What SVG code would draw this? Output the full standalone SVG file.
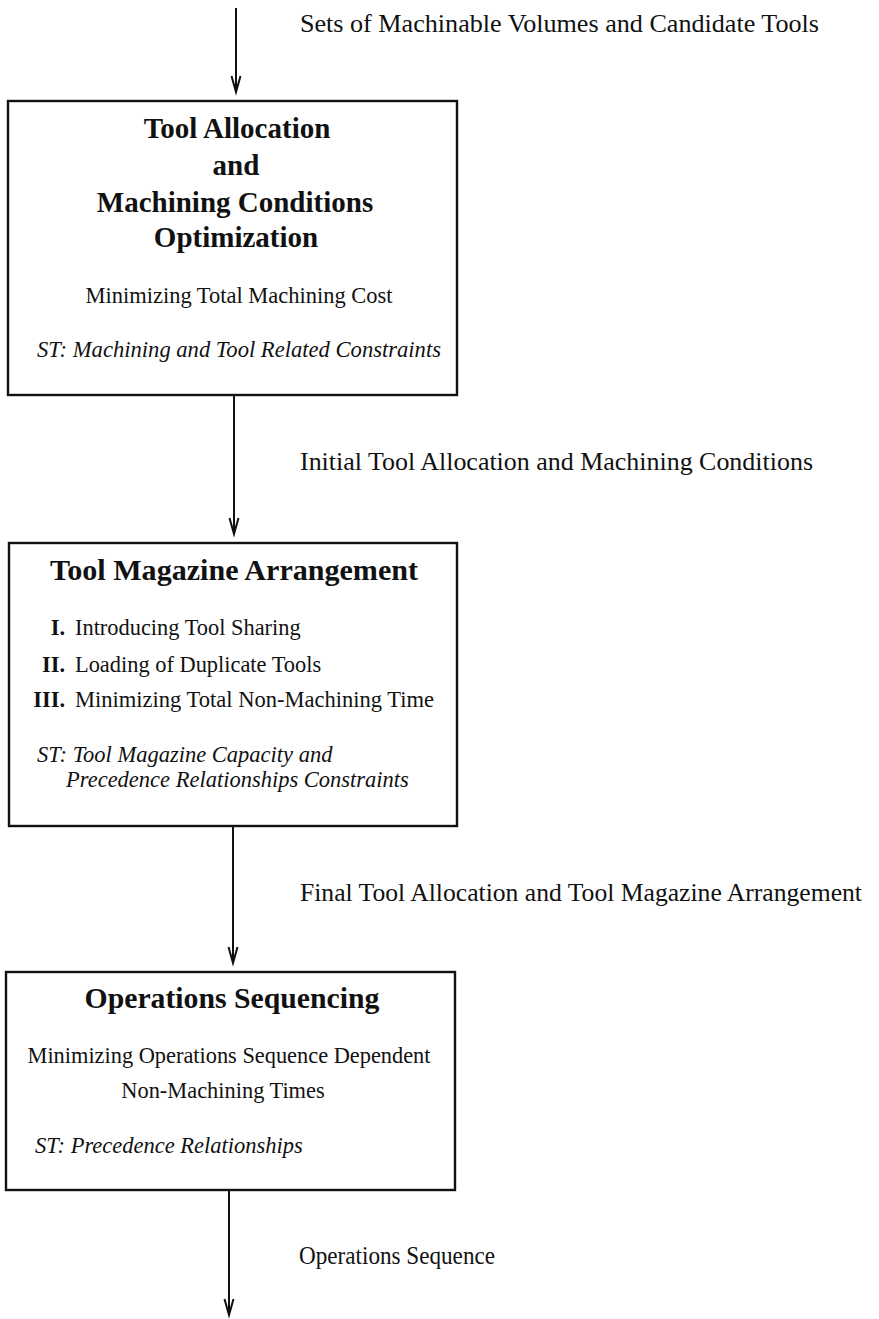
<svg xmlns="http://www.w3.org/2000/svg" width="879" height="1319" viewBox="0 0 879 1319">
<style>
.box{fill:#fff;stroke:#111;stroke-width:2.4}
.conn{stroke:#111;stroke-width:2;fill:none}
.head{stroke:#111;stroke-width:2;fill:none;stroke-linejoin:miter}
text{font-family:"Liberation Serif","Times New Roman",serif;fill:#111}
.lbl{font-size:25.5px}
.ttl{font-size:29px;font-weight:bold;text-anchor:middle}
.reg{font-size:22.4px}
.mid{text-anchor:middle}
.it{font-size:22.5px;font-style:italic}
.num{font-size:22.4px;font-weight:bold;text-anchor:end}
</style>
<rect width="879" height="1319" fill="#fff"/>
<g id="connectors">
  <line class="conn" x1="236" y1="8" x2="236" y2="91"/>
  <path class="head" d="M231.5,76 L236,92 L240.5,76"/>
  <line class="conn" x1="234" y1="396" x2="234" y2="533"/>
  <path class="head" d="M229.5,518 L234,534 L238.5,518"/>
  <line class="conn" x1="233" y1="827" x2="233" y2="962"/>
  <path class="head" d="M228.5,947 L233,963 L237.5,947"/>
  <line class="conn" x1="229" y1="1191" x2="229" y2="1314"/>
  <path class="head" d="M224.5,1299 L229,1315 L233.5,1299"/>
  <text class="lbl" x="300" y="32" textLength="519" lengthAdjust="spacingAndGlyphs">Sets of Machinable Volumes and Candidate Tools</text>
  <text class="lbl" x="300" y="470" textLength="513" lengthAdjust="spacingAndGlyphs">Initial Tool Allocation and Machining Conditions</text>
  <text class="lbl" x="300" y="901" textLength="562" lengthAdjust="spacingAndGlyphs">Final Tool Allocation and Tool Magazine Arrangement</text>
  <text class="lbl" x="299" y="1264" textLength="196" lengthAdjust="spacingAndGlyphs">Operations Sequence</text>
</g>
<g id="node-tool-allocation">
  <rect class="box" x="8" y="101" width="449" height="294"/>
  <text class="ttl" x="237" y="138">Tool Allocation</text>
  <text class="ttl" x="236" y="175">and</text>
  <text class="ttl" x="235" y="212">Machining Conditions</text>
  <text class="ttl" x="236" y="247">Optimization</text>
  <text class="reg mid" x="239" y="303" textLength="307" lengthAdjust="spacingAndGlyphs">Minimizing Total Machining Cost</text>
  <text class="it" x="37" y="357" textLength="404" lengthAdjust="spacingAndGlyphs">ST: Machining and Tool Related Constraints</text>
</g>
<g id="node-tool-magazine">
  <rect class="box" x="9" y="543" width="448" height="283"/>
  <text class="ttl" x="234" y="580" textLength="368" lengthAdjust="spacingAndGlyphs">Tool Magazine Arrangement</text>
  <text class="num" x="65" y="635">I.</text>
  <text class="reg" x="75" y="635">Introducing Tool Sharing</text>
  <text class="num" x="65" y="672">II.</text>
  <text class="reg" x="75" y="672">Loading of Duplicate Tools</text>
  <text class="num" x="65" y="707">III.</text>
  <text class="reg" x="75" y="707" textLength="359" lengthAdjust="spacingAndGlyphs">Minimizing Total Non-Machining Time</text>
  <text class="it" x="37" y="762">ST: Tool Magazine Capacity and</text>
  <text class="it" x="66" y="787">Precedence Relationships Constraints</text>
</g>
<g id="node-operations-sequencing">
  <rect class="box" x="6" y="972" width="449" height="218"/>
  <text class="ttl" x="232" y="1008" textLength="295" lengthAdjust="spacingAndGlyphs">Operations Sequencing</text>
  <text class="reg mid" x="229" y="1063" textLength="403" lengthAdjust="spacingAndGlyphs">Minimizing Operations Sequence Dependent</text>
  <text class="reg mid" x="223" y="1098">Non-Machining Times</text>
  <text class="it" x="35" y="1153">ST: Precedence Relationships</text>
</g>
</svg>
